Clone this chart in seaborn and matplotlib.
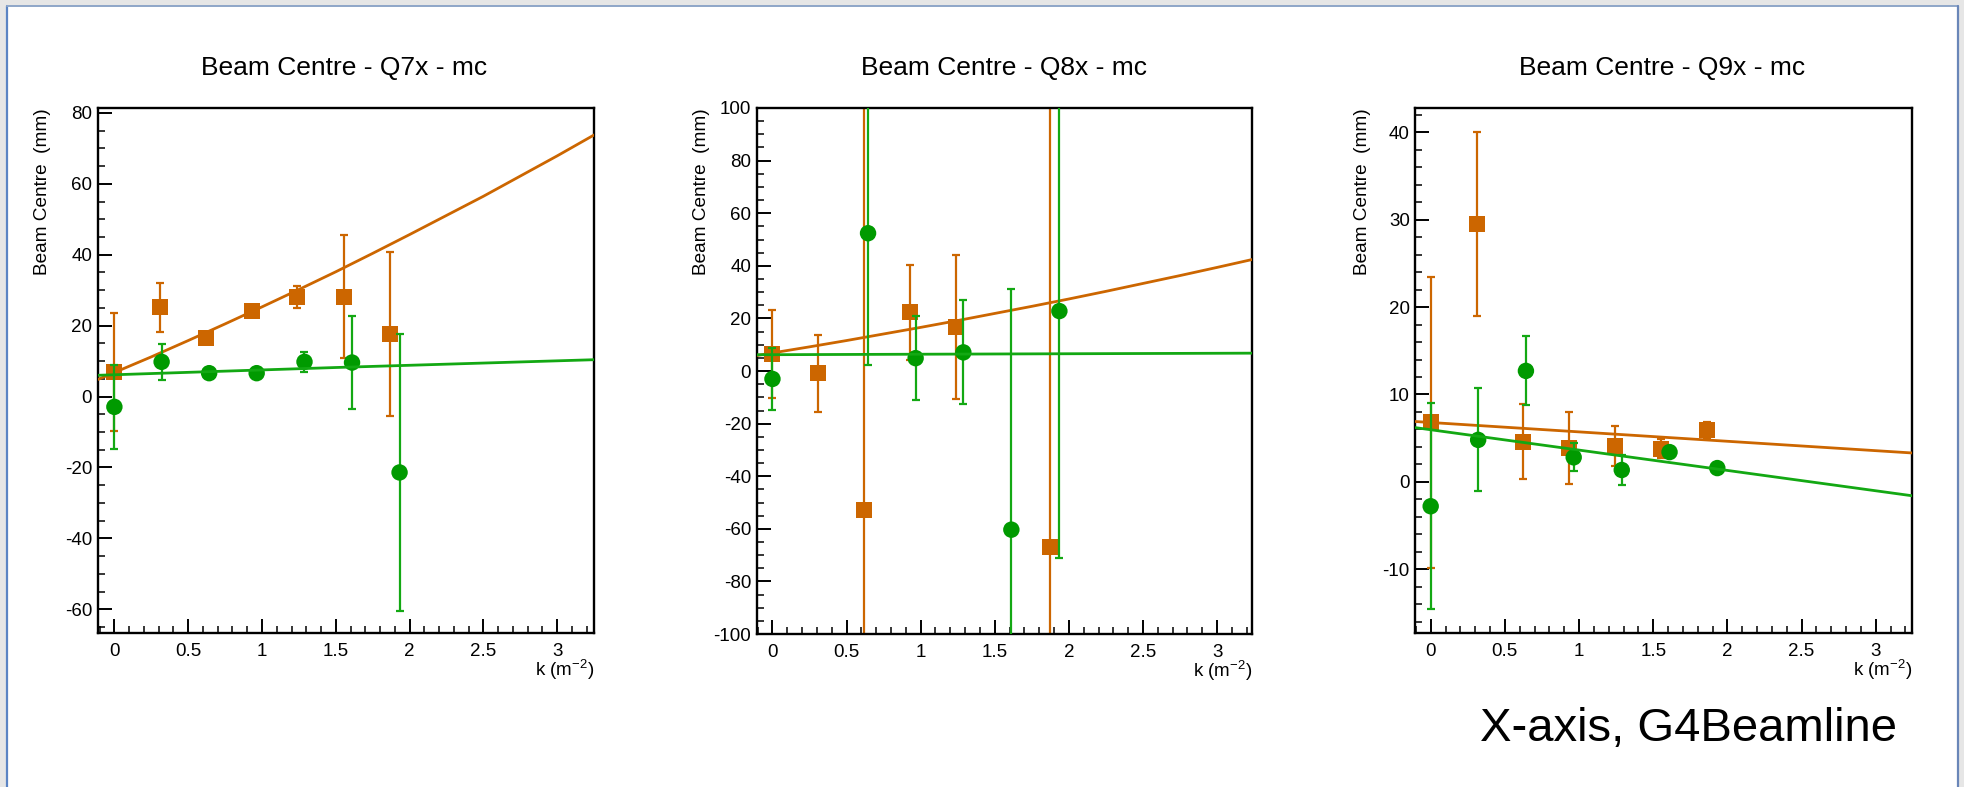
import numpy as np
import pandas as pd
import matplotlib
matplotlib.use("Agg")
import matplotlib.pyplot as plt
from matplotlib.lines import Line2D
from matplotlib.patches import Rectangle
from matplotlib.ticker import MultipleLocator
import seaborn as sns

# ---- measured beam centres (mm) versus quadrupole strength k (m^-2) ----
k_orange = [0.0, 0.31, 0.62, 0.93, 1.24, 1.555, 1.865]
k_green = [0.0, 0.32, 0.642, 0.964, 1.288, 1.61, 1.932]

# Q7x
q7_orange = [6.9, 25.2, 16.6, 24.1, 28.1, 28.2, 17.7]
q7_orange_err = [16.7, 6.9, 1.0, 1.0, 3.0, 17.4, 23.1]
q7_green = [-2.9, 9.8, 6.6, 6.6, 9.8, 9.6, -21.4]
q7_green_err = [11.9, 5.0, 1.0, 1.0, 2.9, 13.1, 39.0]
q7_fit_k_orange = [-0.113, 0.25, 0.5, 0.75, 1.0, 1.25, 1.5, 1.75, 2.0, 2.25, 2.5,
                   2.75, 3.0, 3.25]
q7_fit_orange = [4.8, 11.2, 15.8, 20.5, 25.3, 30.2, 35.2, 40.4, 45.7, 51.1, 56.5,
                 62.2, 67.9, 73.8]
q7_fit_k_green = [-0.113, 1.5, 3.25]
q7_fit_green = [6.0, 8.2, 10.4]

# Q8x
k8_orange = [0.0, 0.31, 0.62, 0.93, 1.24, 1.87]
q8_orange = [6.5, -0.9, -52.9, 22.3, 16.7, -67.0]
q8_orange_err = [16.7, 14.5, 250.0, 18.0, 27.4, 250.0]
k8_green = [0.0, 0.645, 0.966, 1.288, 1.612, 1.936]
q8_green = [-3.0, 52.4, 4.9, 7.1, -60.3, 22.8]
q8_green_err = [11.8, 50.0, 16.0, 19.8, 91.5, 93.7]
q8_fit_k_orange = [-0.107, 0.25, 0.5, 0.75, 1.0, 1.25, 1.5, 1.75, 2.0, 2.25, 2.5,
                   2.75, 3.0, 3.237]
q8_fit_orange = [5.9, 9.2, 11.6, 14.1, 16.6, 19.2, 21.9, 24.6, 27.4, 30.3, 33.3,
                 36.3, 39.4, 42.4]
q8_fit_k_green = [-0.107, 3.237]
q8_fit_green = [6.2, 6.8]

# Q9x
q9_orange = [6.8, 29.5, 4.6, 3.9, 4.1, 3.8, 5.95]
q9_orange_err = [16.7, 10.5, 4.3, 4.1, 2.3, 1.1, 0.95]
q9_green = [-2.8, 4.8, 12.7, 2.8, 1.35, 3.4, 1.57]
q9_green_err = [11.8, 5.9, 3.95, 1.6, 1.7, 0.5, 0.4]
q9_fit_k_orange = [-0.103, 3.245]
q9_fit_orange = [6.9, 3.3]
q9_fit_k_green = [-0.103, 3.245]
q9_fit_green = [6.2, -1.6]

titles = ["Beam Centre - Q7x - mc", "Beam Centre - Q8x - mc", "Beam Centre - Q9x - mc"]
caption = "X-axis, G4Beamline"

ORANGE = "#cc6600"
GREEN = "#009a00"
GREEN_LINE = "#13a813"

sns.set_style("white")
plt.rcParams["font.family"] = ["Liberation Sans", "DejaVu Sans"]
plt.rcParams["mathtext.default"] = "regular"
for key in ["text.color", "axes.labelcolor", "xtick.color", "ytick.color"]:
    plt.rcParams[key] = "black"

W, H = 1964, 787
fig = plt.figure(figsize=(W / 100, H / 100), dpi=100)
fig.patch.set_facecolor("#e6e6e6")

# white canvas with the blue window frame, kept behind the axes
fig.patches.append(Rectangle((7 / W, 0), (1957 - 7) / W, (H - 6) / H,
                             transform=fig.transFigure, facecolor="white",
                             edgecolor="none", zorder=-10))
fig.lines.append(Line2D([6.5 / W, 6.5 / W], [0, 1 - 5.5 / H], transform=fig.transFigure,
                        color="#5b84c4", lw=1.6, zorder=-5))
fig.lines.append(Line2D([6.5 / W, 1957.5 / W], [1 - 5.5 / H, 1 - 5.5 / H],
                        transform=fig.transFigure, color="#8ea6c8", lw=1.4, zorder=-5))
fig.lines.append(Line2D([1957.5 / W, 1957.5 / W], [0, 1 - 5.5 / H], transform=fig.transFigure,
                        color="#6a86b8", lw=1.6, zorder=-5))

panels = [
    dict(rect=(97.7, 594.1, 108.0, 633.4), xlim=(-0.113, 3.25), ylim=(-66.8, 81.4),
         ymaj=20, ymin=5, title_x=344, ylab_x=-0.095,
         ko=k_orange, yo=q7_orange, eo=q7_orange_err,
         kg=k_green, yg=q7_green, eg=q7_green_err,
         fko=q7_fit_k_orange, fo=q7_fit_orange, fkg=q7_fit_k_green, fg=q7_fit_green),
    dict(rect=(756.6, 1252.2, 108.0, 634.1), xlim=(-0.107, 3.237), ylim=(-100, 100),
         ymaj=20, ymin=5, title_x=1004, ylab_x=-0.095,
         ko=k8_orange, yo=q8_orange, eo=q8_orange_err,
         kg=k8_green, yg=q8_green, eg=q8_green_err,
         fko=q8_fit_k_orange, fo=q8_fit_orange, fkg=q8_fit_k_green, fg=q8_fit_green),
    dict(rect=(1415.4, 1912.1, 108.0, 633.4), xlim=(-0.103, 3.245), ylim=(-17.36, 42.8),
         ymaj=10, ymin=2, title_x=1662, ylab_x=-0.090,
         ko=k_orange, yo=q9_orange, eo=q9_orange_err,
         kg=k_green, yg=q9_green, eg=q9_green_err,
         fko=q9_fit_k_orange, fo=q9_fit_orange, fkg=q9_fit_k_green, fg=q9_fit_green),
]

for i, p in enumerate(panels):
    x0, x1, t, b = p["rect"]
    ax = fig.add_axes([x0 / W, 1 - b / H, (x1 - x0) / W, (b - t) / H])
    ax.set_facecolor("white")

    # orange series: error bars, markers, fit
    ax.errorbar(p["ko"], p["yo"], yerr=p["eo"], fmt="none", ecolor=ORANGE,
                elinewidth=1.6, capsize=2.8, capthick=1.6, zorder=2)
    sns.scatterplot(x=p["ko"], y=p["yo"], ax=ax, marker="s", s=132, color=ORANGE,
                    edgecolor="none", linewidth=0, zorder=3)
    sns.lineplot(x=p["fko"], y=p["fo"], ax=ax, color=ORANGE, lw=2.0, sort=True,
                 estimator=None, zorder=4)

    # green series: error bars, markers, fit
    ax.errorbar(p["kg"], p["yg"], yerr=p["eg"], fmt="none", ecolor=GREEN_LINE,
                elinewidth=1.6, capsize=2.8, capthick=1.6, zorder=5)
    sns.scatterplot(x=p["kg"], y=p["yg"], ax=ax, marker="o", s=140, color=GREEN,
                    edgecolor="none", linewidth=0, zorder=6)
    sns.lineplot(x=p["fkg"], y=p["fg"], ax=ax, color=GREEN_LINE, lw=2.0, sort=True,
                 estimator=None, zorder=7)

    ax.set_xlim(*p["xlim"])
    ax.set_ylim(*p["ylim"])
    ax.xaxis.set_major_locator(MultipleLocator(0.5))
    ax.xaxis.set_minor_locator(MultipleLocator(0.1))
    ax.yaxis.set_major_locator(MultipleLocator(p["ymaj"]))
    ax.yaxis.set_minor_locator(MultipleLocator(p["ymin"]))
    ax.xaxis.set_major_formatter(plt.FuncFormatter(lambda v, _: f"{v:g}"))
    ax.yaxis.set_major_formatter(plt.FuncFormatter(lambda v, _: f"{v:g}"))

    ax.tick_params(which="both", direction="in", top=False, right=False,
                   bottom=True, left=True, colors="black", labelsize=13.5)
    ax.tick_params(which="major", length=10, width=1.4)
    ax.tick_params(which="minor", length=5.2, width=1.1)
    ax.tick_params(axis="x", which="major", pad=7)
    ax.tick_params(axis="y", which="major", pad=4)
    for s in ax.spines.values():
        s.set_visible(True)
        s.set_color("black")
        s.set_linewidth(1.7)

    ax.set_ylabel("Beam Centre  (mm)", fontsize=13.7, loc="top")
    ax.yaxis.set_label_coords(p["ylab_x"], 1.0)
    ax.set_xlabel("k (m$^{-2}$)", fontsize=13.5, loc="right")
    ax.xaxis.label.set_va("center")
    ax.xaxis.set_label_coords(1.0, -0.07)

    fig.text(p["title_x"] / W, 1 - 68.5 / H, titles[i], ha="center", va="center",
             fontsize=19)

fig.text(1688 / W, 1 - 729 / H, caption, ha="center", va="center", fontsize=34)

fig.savefig("out.png", dpi=100, facecolor=fig.get_facecolor())
